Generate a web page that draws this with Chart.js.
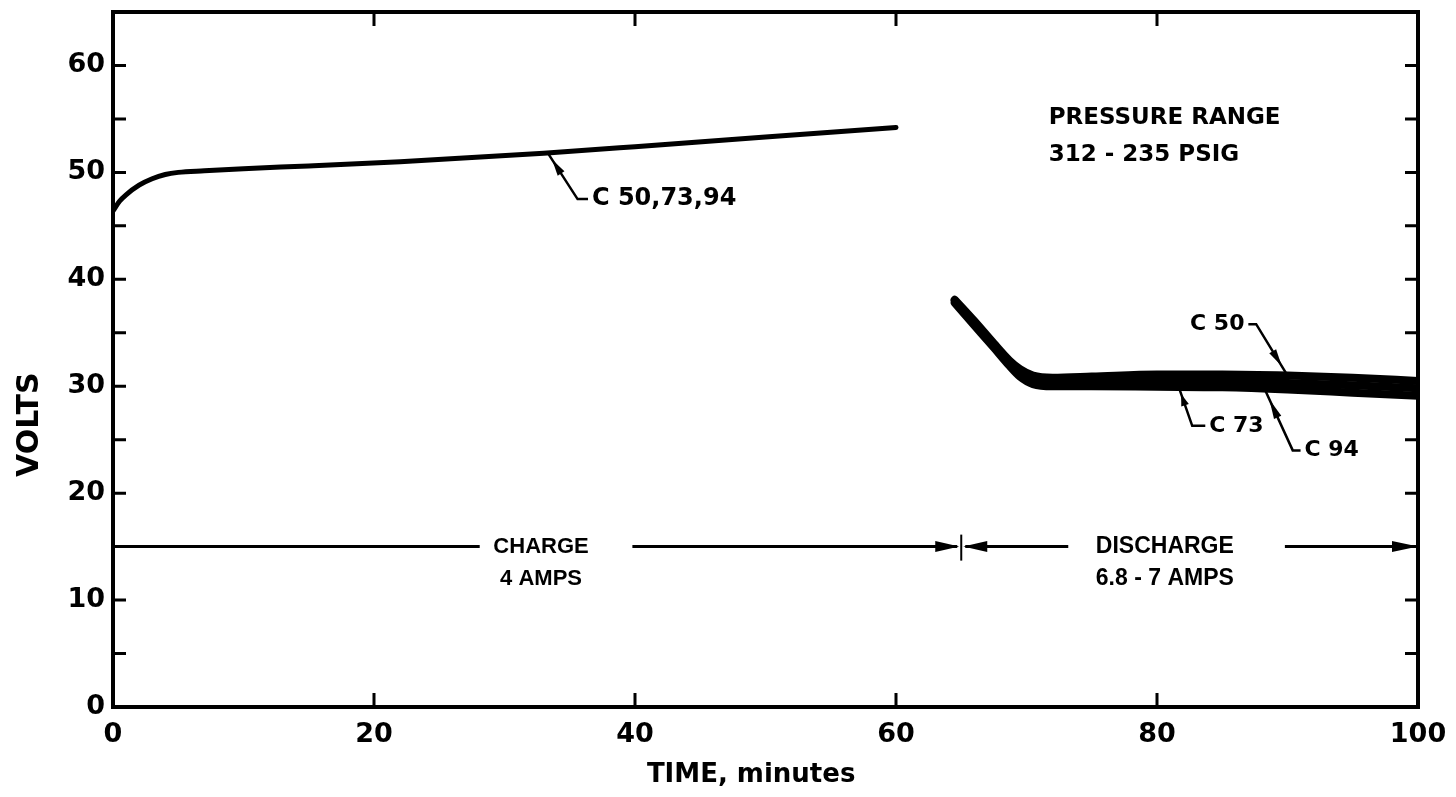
<!DOCTYPE html>
<html>
<head>
<meta charset="utf-8">
<script src="https://cdn.jsdelivr.net/npm/chart.js@4/dist/chart.umd.min.js"></script>
<style>
  html, body { margin: 0; background: #fff; }
  #wrap { width: 1456px; height: 797px; }
</style>
</head>
<body>
<div id="wrap"><canvas id="voltsChart"></canvas></div>
<script>
// charge curve, same for C50, C73, C94
const chargeTime = [0, 0.5, 1, 2, 3, 4, 5, 7, 10, 15, 22, 33, 40, 50, 60];
const chargeVolts = [46.4, 47.3, 47.9, 48.8, 49.4, 49.8, 50, 50.15, 50.35, 50.6, 51, 51.8, 52.4, 53.3, 54.2];

// discharge curves, one per cell
const dischargeTime = [64.5, 66, 67.5, 68.7, 69.5, 70.5, 72, 75, 80, 85, 90, 95, 100];
const c50Volts = [38.1, 36.1, 34.0, 32.4, 31.6, 31.0, 30.8, 30.9, 31.1, 31.1, 31.0, 30.8, 30.5];
const c94Volts = [38.0, 35.9, 33.8, 32.1, 31.2, 30.6, 30.4, 30.4, 30.5, 30.5, 30.3, 30.1, 29.8];
const c73Volts = [37.8, 35.7, 33.6, 31.9, 30.9, 30.2, 30.0, 30.0, 29.95, 29.9, 29.7, 29.4, 29.1];

const xTickLabels = ['0', '20', '40', '60', '80', '100'];
const yTickLabels = ['0', '10', '20', '30', '40', '50', '60'];

const pts = (xs, ys) => xs.map((x, i) => ({ x: x, y: ys[i] }));

function wedge(ctx, x1, y1, x2, y2, w) {
  // filled triangle, base at (x1,y1), tip at (x2,y2)
  const dx = x2 - x1, dy = y2 - y1, l = Math.hypot(dx, dy);
  const nx = -dy / l * w / 2, ny = dx / l * w / 2;
  ctx.beginPath();
  ctx.moveTo(x1 + nx, y1 + ny);
  ctx.lineTo(x2, y2);
  ctx.lineTo(x1 - nx, y1 - ny);
  ctx.closePath();
  ctx.fill();
}

const notes = {
  id: 'notes',
  afterDatasetsDraw(chart) {
    const { ctx, chartArea: a, scales: { x, y } } = chart;
    const px = v => x.getPixelForValue(v);
    const py = v => y.getPixelForValue(v);
    ctx.save();
    ctx.strokeStyle = '#000';
    ctx.fillStyle = '#000';

    // frame
    ctx.lineWidth = 4;
    ctx.strokeRect(a.left, a.top, a.right - a.left, a.bottom - a.top);

    // inward tick marks
    ctx.lineWidth = 3;
    ctx.beginPath();
    for (let v = 5; v <= 60; v += 5) {
      ctx.moveTo(a.left, py(v)); ctx.lineTo(a.left + 13, py(v));
      ctx.moveTo(a.right, py(v)); ctx.lineTo(a.right - 13, py(v));
    }
    for (let v = 20; v <= 80; v += 20) {
      ctx.moveTo(px(v), a.bottom); ctx.lineTo(px(v), a.bottom - 14);
      ctx.moveTo(px(v), a.top); ctx.lineTo(px(v), a.top + 14);
    }
    ctx.stroke();

    // axis titles
    ctx.font = 'bold 30px "DejaVu Sans"';
    ctx.textAlign = 'center';
    ctx.textBaseline = 'middle';
    ctx.save();
    ctx.translate(a.left - 83, py(26.4));
    ctx.rotate(-Math.PI / 2);
    ctx.fillText('VOLTS', 0, 0);
    ctx.restore();
    ctx.font = 'bold 26px "DejaVu Sans"';
    ctx.fillText('TIME, minutes', px(48.9), a.bottom + 68);

    // charge / discharge span line at 15 V
    const yl = py(15);
    ctx.lineWidth = 3;
    ctx.beginPath();
    ctx.moveTo(px(0), yl); ctx.lineTo(px(28.1), yl);
    ctx.moveTo(px(39.8), yl); ctx.lineTo(px(65) - 4, yl);
    ctx.moveTo(px(65) + 4, yl); ctx.lineTo(px(73.2), yl);
    ctx.moveTo(px(89.8), yl); ctx.lineTo(px(100), yl);
    ctx.stroke();
    wedge(ctx, px(65) - 26, yl, px(65) - 2, yl, 11);
    wedge(ctx, px(65) + 26, yl, px(65) + 2, yl, 11);
    wedge(ctx, px(100) - 26, yl, px(100), yl, 11);
    ctx.lineWidth = 2;
    ctx.beginPath();
    ctx.moveTo(px(65), yl - 12); ctx.lineTo(px(65), yl + 14);
    ctx.stroke();

    ctx.font = 'bold 22px "Liberation Sans"';
    ctx.fillText('CHARGE', px(32.8), py(15));
    ctx.fillText('4 AMPS', px(32.8), py(12.0));
    ctx.font = 'bold 23px "Liberation Sans"';
    ctx.fillText('DISCHARGE', px(80.6), py(15));
    ctx.fillText('6.8 - 7 AMPS', px(80.6), py(12.0));

    // pressure note
    ctx.font = 'bold 23px "DejaVu Sans"';
    ctx.textAlign = 'left';
    ctx.fillText('PRESSURE RANGE', px(71.7), py(55.1));
    ctx.fillText('312 - 235 PSIG', px(71.7), py(51.6));

    // leaders: [curve x, curve y, corner x, corner y, end x, label, text x, align, font px]
    const leaders = [
      [33.3, 51.85, 35.6, 47.5, 36.4, 'C 50,73,94', 36.7, 'left', 24],
      [89.9, 31.2, 87.6, 35.8, 87.0, 'C 50', 86.7, 'right', 22],
      [81.7, 29.8, 82.7, 26.3, 83.7, 'C 73', 84.0, 'left', 22],
      [88.3, 29.6, 90.4, 24.0, 91.0, 'C 94', 91.3, 'left', 22]
    ];
    leaders.forEach(l => {
      const x0 = px(l[0]), y0 = py(l[1]), x1 = px(l[2]), y1 = py(l[3]);
      ctx.lineWidth = 2.5;
      ctx.beginPath();
      ctx.moveTo(x0, y0); ctx.lineTo(x1, y1); ctx.lineTo(px(l[4]), y1);
      ctx.stroke();
      const tx = x0 + (x1 - x0) * 0.15, ty = y0 + (y1 - y0) * 0.15;
      const bx = x0 + (x1 - x0) * 0.45, by = y0 + (y1 - y0) * 0.45;
      wedge(ctx, bx, by, tx, ty, 8);
      ctx.font = 'bold ' + l[8] + 'px "DejaVu Sans"';
      ctx.textAlign = l[7];
      ctx.fillText(l[5], px(l[6]), y1);
    });
    ctx.restore();
  }
};

const tickFont = { family: 'DejaVu Sans', weight: 'bold', size: 27 };

new Chart(document.getElementById('voltsChart'), {
  type: 'line',
  data: {
    datasets: [
      { label: 'C 50,73,94 charge', data: pts(chargeTime, chargeVolts) },
      { label: 'C 50', data: pts(dischargeTime, c50Volts), borderWidth: 8 },
      { label: 'C 94', data: pts(dischargeTime, c94Volts), borderWidth: 8 },
      { label: 'C 73', data: pts(dischargeTime, c73Volts), borderWidth: 8 }
    ]
  },
  options: {
    responsive: true,
    maintainAspectRatio: false,
    animation: false,
    layout: { padding: { top: 12, right: 38, left: 0, bottom: 0 } },
    plugins: { legend: { display: false }, tooltip: { enabled: false } },
    elements: {
      point: { radius: 0 },
      line: { borderWidth: 5, borderColor: '#000', cubicInterpolationMode: 'monotone', borderCapStyle: 'round' }
    },
    scales: {
      x: {
        type: 'linear', min: 0, max: 100,
        grid: { display: false, drawTicks: false },
        border: { display: false },
        ticks: {
          stepSize: 20, padding: 12, color: '#000', font: tickFont, maxRotation: 0,
          callback: (v, i) => xTickLabels[i]
        },
        afterFit: s => { s.height = 90; s.paddingLeft = 0; s.paddingRight = 0; }
      },
      y: {
        min: 0, max: 65,
        grid: { display: false, drawTicks: false },
        border: { display: false },
        ticks: {
          stepSize: 5, padding: 8, color: '#000', font: tickFont, autoSkip: false,
          callback: v => (v % 10 === 0 ? yTickLabels[v / 10] : '')
        },
        afterFit: s => { s.width = 113; s.paddingTop = 0; s.paddingBottom = 0; }
      }
    }
  },
  plugins: [notes]
});
</script>
</body>
</html>
